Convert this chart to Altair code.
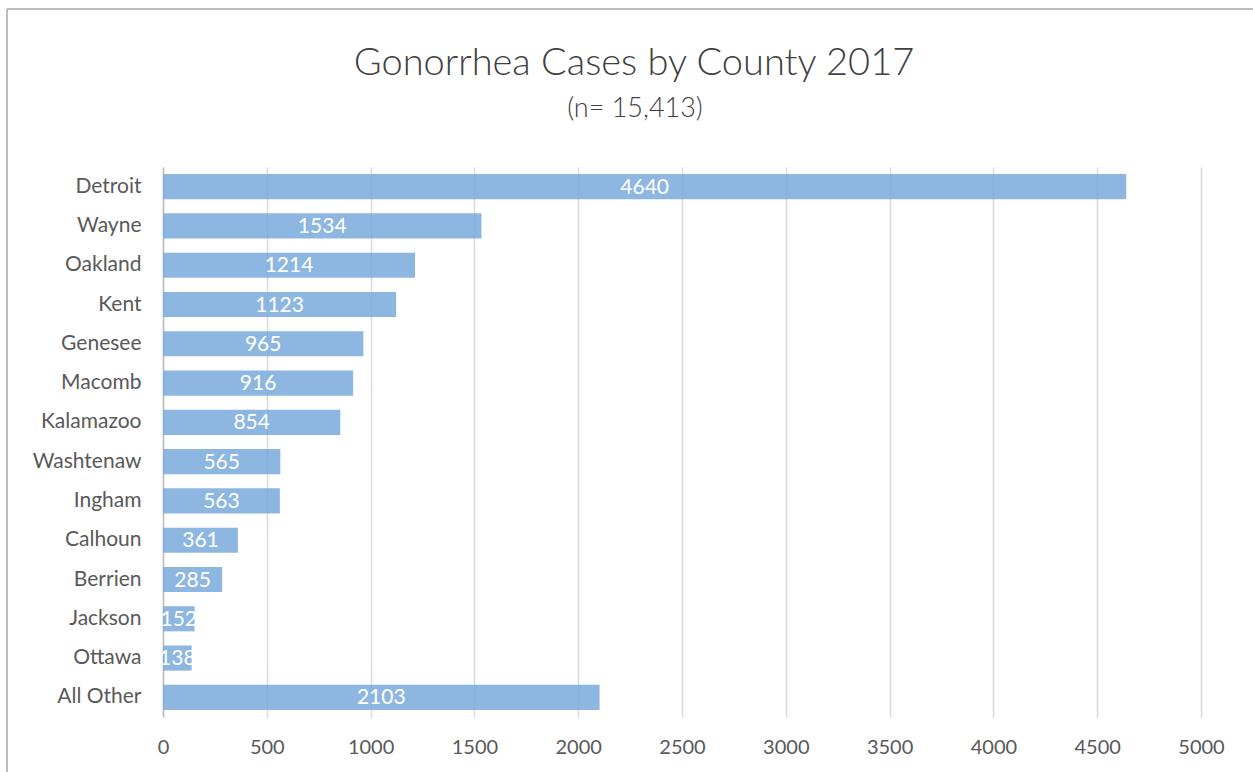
import altair as alt
import pandas as pd

counties = ["Detroit", "Wayne", "Oakland", "Kent", "Genesee", "Macomb", "Kalamazoo",
            "Washtenaw", "Ingham", "Calhoun", "Berrien", "Jackson", "Ottawa", "All Other"]
cases = [4640, 1534, 1214, 1123, 965, 916, 854, 565, 563, 361, 285, 152, 138, 2103]
x_ticks = [0, 500, 1000, 1500, 2000, 2500, 3000, 3500, 4000, 4500, 5000]
title_text = "Gonorrhea Cases by County 2017"
subtitle_text = "(n= 15,413)"

df = pd.DataFrame({"county": counties, "cases": cases})
FONT = "Lato"

base = alt.Chart(df)

y_enc = alt.Y("county:N", sort=counties,
              scale=alt.Scale(paddingInner=0.36, paddingOuter=0.18),
              axis=alt.Axis(title=None, domain=True, domainColor="#bfbfbf", domainWidth=1.5,
                            ticks=False, labelFontSize=21, labelColor="#595959",
                            labelFont=FONT, labelPadding=22))

bars = base.mark_bar(color="#79aadc", opacity=0.85).encode(
    x=alt.X("cases:Q", scale=alt.Scale(domain=[0, 5000], nice=False),
            axis=alt.Axis(title=None, values=x_ticks, format="d", grid=True, gridColor="#d9d9d9",
                          gridWidth=1.5, domain=False, ticks=False, labelFontSize=20,
                          labelColor="#595959", labelFont=FONT, labelPadding=20,
                          labelFlush=False)),
    y=y_enc,
)

labels = base.transform_calculate(mid="datum.cases / 2").mark_text(
    color="white", fontSize=21, font=FONT, baseline="middle", dy=1
).encode(
    x="mid:Q",
    y=alt.Y("county:N", sort=counties),
    text="cases:Q",
)

title_df = pd.DataFrame({"t": [title_text]})
sub_df = pd.DataFrame({"t": [subtitle_text]})
title_mark = alt.Chart(title_df).mark_text(
    fontSize=38, font=FONT, fontWeight=300, color="#404040", align="center", baseline="middle"
).encode(text="t:N", x=alt.value(471), y=alt.value(-103))
sub_mark = alt.Chart(sub_df).mark_text(
    fontSize=27, font=FONT, fontWeight=300, color="#404040", align="center", baseline="middle"
).encode(text="t:N", x=alt.value(472), y=alt.value(-58))

frame_left = alt.Chart(title_df).mark_rule(color="#a6a6a6", strokeWidth=1.5).encode(
    x=alt.value(-156), y=alt.value(-158), y2=alt.value(700))
frame_top = alt.Chart(title_df).mark_rule(color="#a6a6a6", strokeWidth=1.5).encode(
    x=alt.value(-156), x2=alt.value(1200), y=alt.value(-158))

chart = alt.layer(bars, labels, title_mark, sub_mark, frame_left, frame_top).properties(
    width=1038, height=550,
    padding={"left": 163, "top": 167, "right": 52, "bottom": 55},
    autosize=alt.AutoSizeParams(type="none"),
).configure(background="white").configure_view(strokeOpacity=0, strokeWidth=0)

chart.save("out.html", embed_options={"renderer": "svg", "actions": False})
